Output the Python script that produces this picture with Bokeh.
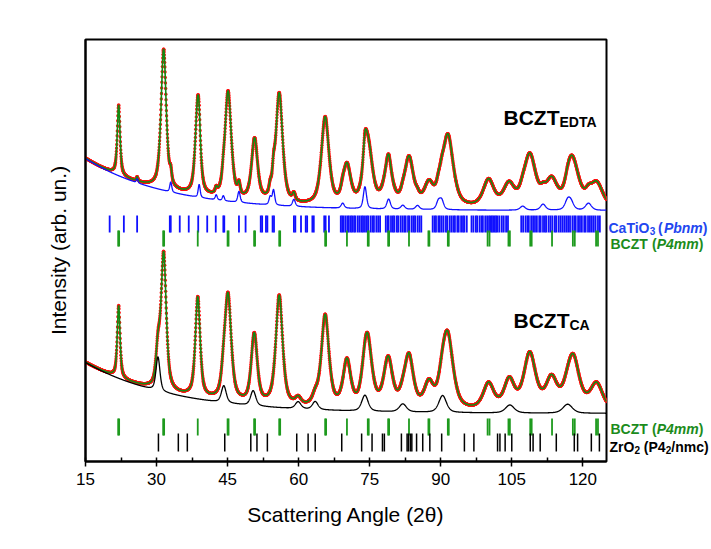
import numpy as np
from bokeh.plotting import figure
from bokeh.layouts import row
from bokeh.models import Range1d, Label, FixedTicker
from bokeh.embed import file_html
from bokeh.resources import INLINE

# ---------------- data (intensity in arb. units) ----------------
bczt_pos = [22.0, 31.5, 38.7, 45.1, 50.7, 55.9, 65.6, 70.2, 74.6, 78.9, 83.3, 87.5,
            91.5, 100.1, 104.4, 108.8, 113.4, 118.0, 122.9]
bczt_fwhm = [0.7, 1.3, 1.2, 1.6, 1.5, 1.7, 1.9, 1.9, 2.2, 2.2, 2.2, 2.3,
             2.7, 2.7, 2.8, 3.0, 2.9, 3.1, 3.2]
edta_amp = [70, 140, 94, 108, 62, 110, 88, 39, 64, 39, 48, 21,
            72, 27, 22, 52, 26, 42, 25]
ca_amp = [72, 137, 100, 104, 56, 110, 92, 46, 62, 49, 51, 24,
          71, 26, 21, 56, 30, 50, 27]

cto_pos = [25.9, 33.0, 39.0, 42.6, 44.1, 47.4, 54.0, 54.7, 59.0, 69.3, 74.0, 79.0,
           82.0, 85.1, 89.5, 90.2, 107.3, 111.6, 116.8, 117.5, 121.2]
cto_amp = [4, 10, 13, 5, 5, 11, 8, 15, 7, 5, 22, 10, 4, 4, 8, 9, 4, 6, 9, 7, 7]
cto_fwhm = [0.4, 0.5, 0.5, 0.5, 0.5, 0.6, 0.6, 0.6, 0.7, 0.8, 0.8, 0.9, 1.0, 1.0,
            1.0, 1.0, 1.3, 1.3, 1.4, 1.4, 1.5]

zro_pos = [30.3, 44.2, 50.4, 59.9, 63.5, 74.0, 82.0, 90.4, 104.6, 116.8]
zro_amp = [34, 17, 15, 7, 8, 16, 8, 17, 8, 9]
zro_fwhm = [1.0, 1.2, 1.3, 1.4, 1.4, 1.6, 1.8, 1.9, 2.2, 2.4]

bg_edta = (251.0, 52.0, 17.4)
bg_ca = (48.0, 51.0, 18.8)

bczt_ticks = [21.9, 22.1, 31.4, 31.6, 38.7, 45.0, 45.2, 50.6, 50.8, 55.9, 56.1, 65.6,
              65.8, 70.2, 74.6, 74.8, 78.9, 79.1, 83.3, 87.4, 87.6, 91.5, 91.7, 99.9,
              100.3, 104.3, 104.6, 108.9, 109.2, 113.5, 117.9, 118.3, 122.8, 123.2]
cto_ticks = [20.1, 23.1, 25.9, 32.8, 33.0, 34.9, 36.8, 38.8, 40.7, 42.5, 44.1, 44.3,
             47.4, 48.8, 52.0, 52.3, 53.1, 53.4, 54.5, 54.8, 59.0, 59.3, 60.5, 61.5,
             61.8, 62.9, 63.2, 65.4, 65.7, 66.4, 68.9, 69.2, 69.5, 69.9, 70.3, 70.6,
             71.0, 71.3, 71.7, 72.0, 72.5, 72.9, 73.3, 73.6, 74.0, 74.4, 74.7, 75.2,
             75.6, 75.9, 76.4, 76.8, 77.2, 78.4, 78.8, 79.0, 79.5, 79.9, 80.2, 80.7,
             81.0, 81.5, 81.9, 82.3, 82.6, 83.1, 83.4, 83.9, 84.3, 84.6, 85.1, 85.5,
             85.9, 88.3, 88.7, 89.0, 89.5, 89.8, 90.2, 90.6, 91.1, 91.4, 91.9, 92.3,
             92.7, 93.0, 93.5, 93.8, 94.3, 94.7, 95.0, 95.5, 96.5, 96.9, 97.4, 97.7,
             98.2, 98.6, 98.9, 99.4, 99.8, 100.2, 100.5, 100.8, 101.1, 101.4, 101.7,
             102.0, 102.4, 102.9, 103.3, 103.8, 104.2, 107.0, 107.4, 107.9, 108.3,
             108.6, 109.1, 109.5, 109.9, 110.3, 110.8, 111.1, 111.6, 112.0, 112.3,
             112.8, 113.2, 113.6, 114.1, 114.4, 114.9, 115.3, 115.7, 116.1, 116.5,
             116.9, 117.3, 117.8, 118.2, 118.5, 119.0, 119.4, 119.8, 120.3, 120.6,
             121.1, 121.5, 121.9, 122.3, 122.7, 123.2, 123.6]
zro_ticks = [30.4, 34.6, 36.5, 44.4, 49.9, 51.2, 53.4, 59.6, 62.0, 63.5, 69.1, 73.3,
             75.5, 77.7, 78.1, 81.7, 82.9, 83.2, 83.6, 83.9, 84.9, 86.2, 87.7, 90.2,
             95.0, 97.0, 102.0, 102.5, 103.6, 105.0, 108.9, 109.5, 111.0, 114.4,
             118.2, 118.9, 121.8, 123.5]

x_ticks = [15, 30, 45, 60, 75, 90, 105, 120]
x_minor = [22.5, 37.5, 52.5, 67.5, 82.5, 97.5, 112.5]


def profile(x, pos, amp, fwhm, eta=0.65):
    y = np.zeros_like(x)
    for p0, a, w in zip(pos, amp, fwhm):
        d = (x - p0) / w
        y += a * (eta / (1 + 4 * d * d) + (1 - eta) * np.exp(-4 * np.log(2) * d * d))
    return y


def background(x, par):
    a, b, c = par
    return a + b * np.exp(-(x - 15) / c)


two_theta = np.arange(15.0, 125.0001, 0.04)

edta_sec = background(two_theta, bg_edta) + profile(two_theta, cto_pos, cto_amp, cto_fwhm, 0.5)
edta_calc = edta_sec + profile(two_theta, bczt_pos, edta_amp, bczt_fwhm)
ca_sec = background(two_theta, bg_ca) + profile(two_theta, zro_pos, zro_amp, zro_fwhm, 0.5)
ca_calc = ca_sec + profile(two_theta, bczt_pos, ca_amp, bczt_fwhm)

# ---------------- main figure ----------------
H = 548
FRAME_L, FRAME_W, FRAME_T, FRAME_H = 85, 521, 39, 422
W1 = FRAME_L + FRAME_W + 2
W2 = 710 - W1
p = figure(width=W1, height=H, x_range=Range1d(15, 125), y_range=Range1d(0, 422),
           output_backend="svg", toolbar_location=None,
           min_border_left=FRAME_L, min_border_right=2,
           min_border_top=FRAME_T, min_border_bottom=H - FRAME_T - FRAME_H)
p.xgrid.visible = False
p.ygrid.visible = False
p.background_fill_color = "white"
p.border_fill_color = "white"
p.outline_line_color = "black"
p.outline_line_width = 2

RED = "#ff1010"
GREEN = "#138a13"
BLUE = "#1010ff"

for calc in (edta_calc, ca_calc):
    p.scatter(two_theta, calc, size=3.4, marker="circle", fill_color=RED, line_color=None)
    p.line(two_theta, calc, line_color=GREEN, line_width=1.6)

p.line(two_theta, edta_sec, line_color=BLUE, line_width=1.3)
p.line(two_theta, ca_sec, line_color="black", line_width=1.3)


def marks(ticks, y0, y1, color, w):
    p.segment(x0=ticks, x1=ticks, y0=[y0] * len(ticks), y1=[y1] * len(ticks),
              line_color=color, line_width=w)

marks(cto_ticks, 229, 246, BLUE, 1.8)
marks(bczt_ticks, 215, 231, "#1e9a1e", 1.8)
marks(bczt_ticks, 26, 43, "#1e9a1e", 1.8)
marks(zro_ticks, 10, 28, "black", 1.5)

FONT = "Liberation Sans"
xa = p.xaxis[0]
xa.ticker = FixedTicker(ticks=x_ticks, minor_ticks=x_minor)
xa.axis_line_width = 2
xa.major_tick_line_width = 1.5
xa.minor_tick_line_width = 1.5
xa.major_tick_in = 4
xa.major_tick_out = 5
xa.minor_tick_in = 4
xa.minor_tick_out = 0
xa.major_label_text_font = FONT
xa.major_label_text_font_size = "17px"
xa.major_label_text_color = "black"
xa.major_label_standoff = 6
xa.axis_label = "Scattering Angle (2θ)"
xa.axis_label_text_font = FONT
xa.axis_label_text_font_size = "21px"
xa.axis_label_text_font_style = "normal"
xa.axis_label_text_color = "black"
xa.axis_label_standoff = 15

ya = p.yaxis[0]
ya.ticker = FixedTicker(ticks=[])
ya.axis_line_width = 2
ya.major_tick_in = 0
ya.major_tick_out = 0
ya.minor_tick_in = 0
ya.minor_tick_out = 0
ya.axis_label = "Intensity (arb. un.)"
ya.axis_label_text_font = FONT
ya.axis_label_text_font_size = "21px"
ya.axis_label_text_font_style = "normal"
ya.axis_label_text_color = "black"
ya.axis_label_standoff = 16


def px_x(px):
    return 15 + (px - FRAME_L) * 110.0 / FRAME_W


def px_y(py):
    return FRAME_T + FRAME_H - py


def lab(fig, text, x, py, size, color="black", style="bold"):
    fig.add_layout(Label(x=x, y=px_y(py), text=text, text_font=FONT,
                         text_font_size=size, text_font_style=style, text_color=color,
                         text_baseline="alphabetic", text_align="left"))

lab(p, "BCZT", px_x(503), 117, "21px")
lab(p, "EDTA", px_x(559), 121, "14px")
lab(p, "BCZT", px_x(513), 320, "21px")
lab(p, "CA", px_x(569), 324, "14px")

# ---------------- side panel with the phase names (frame aligned with p) ----------------
q = figure(width=W2, height=H, x_range=Range1d(W1, 710), y_range=Range1d(0, 422),
           output_backend="svg", toolbar_location=None, x_axis_type=None, y_axis_type=None,
           min_border_left=0, min_border_right=0, min_border_top=FRAME_T,
           min_border_bottom=H - FRAME_T - FRAME_H)
q.outline_line_color = None
q.xgrid.visible = False
q.ygrid.visible = False
q.background_fill_color = "white"
q.border_fill_color = "white"

CBLUE = "#2246f0"
CGREEN = "#1c8c1c"
lab(q, "CaTiO", 608, 227, "14px", CBLUE)
lab(q, "3", 649.2, 230, "10px", CBLUE)
lab(q, "(", 657.5, 227, "14px", CBLUE)
lab(q, "Pbnm", 663.4, 227, "14px", CBLUE, "bold italic")
lab(q, ")", 702.3, 227, "14px", CBLUE)

for py in (243, 428):
    lab(q, "BCZT", 610, py, "14px", CGREEN)
    lab(q, "(", 651.5, py, "14px", CGREEN)
    lab(q, "P4mm", 656.2, py, "14px", CGREEN, "bold italic")
    lab(q, ")", 698.2, py, "14px", CGREEN)

lab(q, "ZrO", 609, 446, "14px")
lab(q, "2", 633.9, 449, "10px")
lab(q, "(P4", 643.3, 446, "14px")
lab(q, "2", 665.2, 449, "10px")
lab(q, "/nmc)", 670.8, 446, "14px")

layout = row(p, q, spacing=0)
open("out.html", "w").write(file_html(layout, INLINE))
